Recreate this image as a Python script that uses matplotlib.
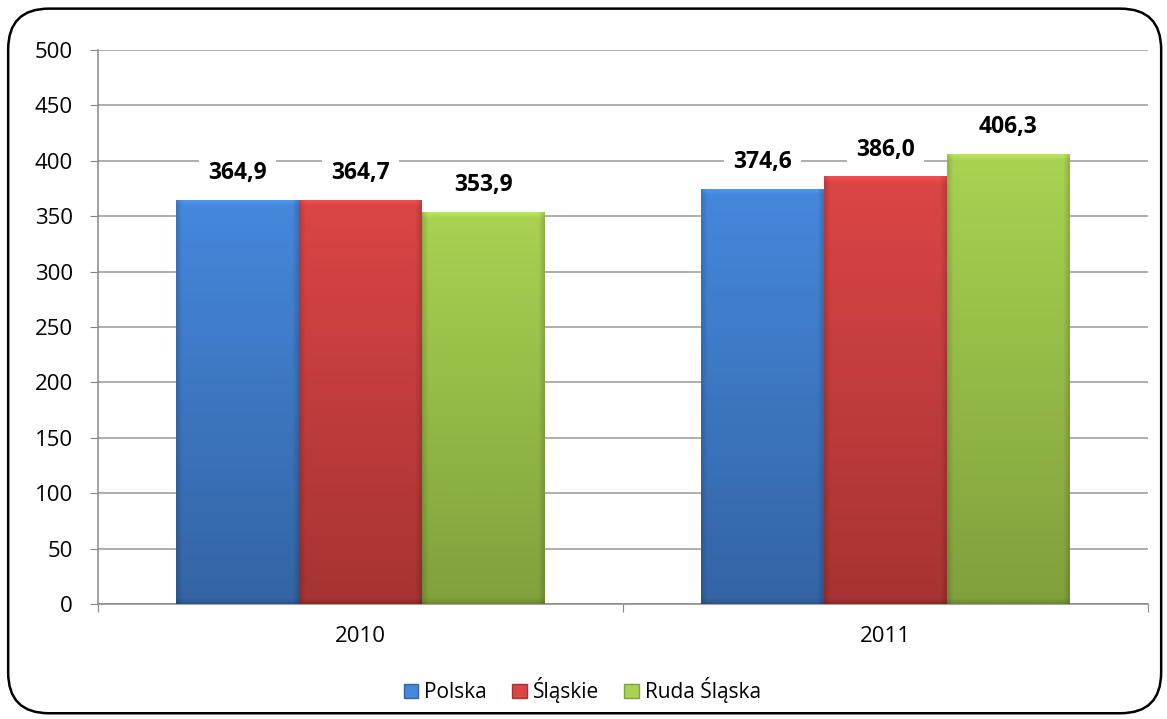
import numpy as np
import matplotlib.pyplot as plt
from matplotlib.patches import FancyBboxPatch, Patch
from matplotlib.colors import to_rgb

years = ["2010", "2011"]
series = ["Polska", "Śląskie", "Ruda Śląska"]
polska = [364.9, 374.6]
slaskie = [364.7, 386.0]
ruda = [353.9, 406.3]
values = [polska, slaskie, ruda]

# (top colour, bottom colour) for each series
colors = [("#4588dc", "#3464a4"), ("#dc4545", "#a63333"), ("#aad252", "#80a03c")]

plt.rcParams['font.family'] = ['Open Sans', 'DejaVu Sans']

fig = plt.figure(figsize=(11.67, 7.19), dpi=100)
ax = fig.add_axes([0.084, 0.16, 0.8997, 0.7705])

# rounded frame around the whole chart
frame = FancyBboxPatch((0.007, 0.008), 0.988, 0.98, boxstyle="round,pad=0,rounding_size=0.035",
                       transform=fig.transFigure, fill=False, lw=1.8, ec="black",
                       mutation_aspect=1167 / 719)
fig.patches.append(frame)

x = np.arange(len(years))
w = 0.234
offsets = [-w, 0, w]

def shaded_bar(xc, h, c_top, c_bot):
    # vertical gradient plus darker bevel edges, clipped to the bar rectangle
    bar = ax.bar(xc, h, w, color=c_bot, edgecolor="none", zorder=2)[0]
    top = np.array(to_rgb(c_top))
    bot = np.array(to_rgb(c_bot))
    ny, nx = 400, 120
    t = np.linspace(0, 1, ny)[:, None, None]
    img = top * (1 - t) + bot * t
    img = np.repeat(img, nx, axis=1)
    u = np.linspace(0, 1, nx)
    edge = 1 - 0.15 * (np.clip(1 - u / 0.05, 0, 1) + np.clip((u - 0.95) / 0.05, 0, 1))
    img = img * edge[None, :, None]
    vv = np.linspace(0, 1, ny)
    # light bevel at the top, darker at the bottom
    topedge = 1 + 0.12 * np.clip(1 - vv * h / 6, 0, 1)
    botedge = 1 - 0.15 * np.clip(1 - (1 - vv) * h / 5, 0, 1)
    img = np.clip(img * (topedge * botedge)[:, None, None], 0, 1)
    im = ax.imshow(img, extent=(xc - w / 2, xc + w / 2, 0, h), origin="upper",
                   aspect="auto", zorder=3, interpolation="bilinear")
    im.set_clip_path(bar)

for i, s in enumerate(series):
    for j in range(len(years)):
        v = values[i][j]
        xc = x[j] + offsets[i]
        shaded_bar(xc, v, *colors[i])
        ax.text(xc, v + 24, f"{v:.1f}".replace(".", ","), ha="center", va="center",
                fontsize=16.5, fontweight="bold", zorder=4,
                bbox=dict(boxstyle="square,pad=0.4", fc="white", ec="none"))

ax.set_xlim(-0.5, 1.5)
ax.set_ylim(0, 500)
ax.set_yticks(np.arange(0, 501, 50))
ax.yaxis.grid(True, color="#999999", lw=1.1, zorder=0)
ax.set_axisbelow(True)

ax.set_xticks([-0.5, 0.5, 1.5])
ax.set_xticklabels([])
ax.set_xticks(x, minor=True)
ax.set_xticklabels(years, minor=True)
ax.tick_params(axis="x", which="minor", length=0, pad=16, labelsize=16)
ax.tick_params(axis="x", which="major", length=6, color="#888888")
ax.tick_params(axis="y", length=6, color="#888888", labelsize=16, pad=12)

for sp in ["top", "right"]:
    ax.spines[sp].set_visible(False)
for sp in ["left", "bottom"]:
    ax.spines[sp].set_color("#888888")
    ax.spines[sp].set_linewidth(1.1)

handles = [Patch(facecolor=c[0], edgecolor=c[1], label=s) for s, c in zip(series, colors)]
fig.legend(handles=handles, loc="center", bbox_to_anchor=(0.499, 0.04), ncol=3,
           frameon=False, fontsize=15, handlelength=0.7, handleheight=0.7,
           handletextpad=0.3, columnspacing=1.2)

fig.savefig("out.png", dpi=100)
